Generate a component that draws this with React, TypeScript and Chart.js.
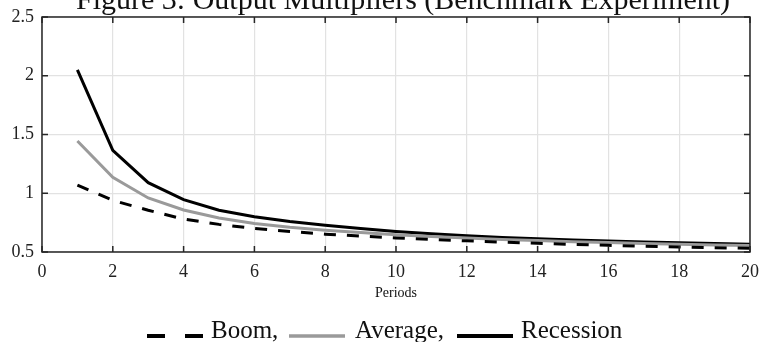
import React, { useEffect, useRef } from "react";
import { Chart, registerables } from "chart.js";

Chart.register(...registerables);

const periods = [1, 2, 3, 4, 5, 6, 7, 8, 9, 10, 11, 12, 13, 14, 15, 16, 17, 18, 19, 20];
const boom = [1.07, 0.94, 0.855, 0.78, 0.735, 0.70, 0.675, 0.652, 0.635, 0.62, 0.607, 0.595, 0.584, 0.574, 0.565, 0.557, 0.55, 0.543, 0.537, 0.531];
const average = [1.445, 1.135, 0.96, 0.858, 0.79, 0.742, 0.71, 0.686, 0.665, 0.647, 0.632, 0.619, 0.607, 0.597, 0.588, 0.58, 0.573, 0.566, 0.56, 0.555];
const recession = [2.05, 1.365, 1.09, 0.945, 0.855, 0.80, 0.76, 0.728, 0.70, 0.675, 0.655, 0.638, 0.624, 0.612, 0.602, 0.594, 0.586, 0.579, 0.572, 0.566];
const xTicks = [0, 2, 4, 6, 8, 10, 12, 14, 16, 18, 20];
const yTicks = [0.5, 1, 1.5, 2, 2.5];
const titleText = "Figure 3: Output Multipliers (Benchmark Experiment)";
const xTitle = "Periods";
const legendLabels = ["Boom,", "Average,", "Recession"];

const SERIF = "'Liberation Serif', 'DejaVu Serif', serif";
const GRAY = "#9a9a9a";

const framePlugin = {
  id: "frame",
  afterDatasetsDraw(chart: any) {
    const { ctx, chartArea: a, scales } = chart;
    const xs = scales.x, ys = scales.y;
    ctx.save();
    ctx.strokeStyle = "#262626";
    ctx.lineWidth = 1.5;
    ctx.strokeRect(a.left, a.top, a.right - a.left, a.bottom - a.top);
    const tl = 6;
    ctx.beginPath();
    xTicks.forEach((v) => {
      const px = xs.getPixelForValue(v);
      ctx.moveTo(px, a.bottom);
      ctx.lineTo(px, a.bottom - tl);
      ctx.moveTo(px, a.top);
      ctx.lineTo(px, a.top + tl);
    });
    yTicks.forEach((v) => {
      const py = ys.getPixelForValue(v);
      ctx.moveTo(a.left, py);
      ctx.lineTo(a.left + tl, py);
      ctx.moveTo(a.right, py);
      ctx.lineTo(a.right - tl, py);
    });
    ctx.stroke();
    ctx.restore();
  },
  afterDraw(chart: any) {
    const { ctx, chartArea: a } = chart;
    ctx.save();
    ctx.fillStyle = "#111";
    // title
    ctx.font = `30px ${SERIF}`;
    ctx.textAlign = "center";
    ctx.textBaseline = "alphabetic";
    ctx.fillText(titleText, 403, 9);
    // x title
    ctx.font = `14px ${SERIF}`;
    ctx.fillText(xTitle, (a.left + a.right) / 2, 297);
    // legend
    ctx.textAlign = "left";
    ctx.font = `25px ${SERIF}`;
    const ly = 336;
    const items = [
      { x0: 147, x1: 203, tx: 211, color: "#000", dash: [18, 20], w: 4 },
      { x0: 289, x1: 345, tx: 355, color: GRAY, dash: [], w: 3.5 },
      { x0: 457, x1: 513, tx: 521, color: "#000", dash: [], w: 4 },
    ];
    items.forEach((it, i) => {
      ctx.beginPath();
      ctx.setLineDash(it.dash);
      ctx.strokeStyle = it.color;
      ctx.lineWidth = it.w;
      ctx.moveTo(it.x0, ly);
      ctx.lineTo(it.x1, ly);
      ctx.stroke();
      ctx.setLineDash([]);
      ctx.fillStyle = "#111";
      ctx.fillText(legendLabels[i], it.tx, 338);
    });
    ctx.restore();
  },
};

export default function App() {
  const ref = useRef<HTMLCanvasElement | null>(null);
  useEffect(() => {
    document.body.style.margin = "0";
    const canvas = ref.current!;
    const chart = new Chart(canvas, {
      type: "line",
      data: {
        datasets: [
          {
            label: "Boom",
            data: periods.map((p, i) => ({ x: p, y: boom[i] })),
            borderColor: "#000",
            borderWidth: 3,
            borderDash: [12, 11],
            pointRadius: 0,
            fill: false,
            tension: 0,
          },
          {
            label: "Average",
            data: periods.map((p, i) => ({ x: p, y: average[i] })),
            borderColor: GRAY,
            borderWidth: 3,
            pointRadius: 0,
            fill: false,
            tension: 0,
          },
          {
            label: "Recession",
            data: periods.map((p, i) => ({ x: p, y: recession[i] })),
            borderColor: "#000",
            borderWidth: 3,
            pointRadius: 0,
            fill: false,
            tension: 0,
          },
        ],
      },
      options: {
        animation: false,
        responsive: false,
        events: [],
        layout: { padding: { top: 17, right: 10, left: 0, bottom: 0 } },
        plugins: {
          legend: { display: false },
          title: { display: false },
          tooltip: { enabled: false },
        },
        scales: {
          x: {
            type: "linear",
            min: 0,
            max: 20,
            afterFit: (s: any) => {
              s.height = 90;
              s.paddingLeft = 0;
              s.paddingRight = 0;
            },
            afterBuildTicks: (s: any) => {
              s.ticks = xTicks.map((v) => ({ value: v }));
            },
            grid: { color: "#e2e2e2", lineWidth: 1.2, drawTicks: false },
            border: { display: false },
            ticks: {
              padding: 9,
              color: "#222",
              font: { family: SERIF, size: 18 },
              maxRotation: 0,
            },
          },
          y: {
            type: "linear",
            min: 0.5,
            max: 2.5,
            afterFit: (s: any) => {
              s.width = 42;
              s.paddingTop = 0;
              s.paddingBottom = 0;
            },
            afterBuildTicks: (s: any) => {
              s.ticks = yTicks.map((v) => ({ value: v }));
            },
            grid: { color: "#e2e2e2", lineWidth: 1.2, drawTicks: false },
            border: { display: false },
            ticks: {
              padding: 8,
              color: "#222",
              font: { family: SERIF, size: 18 },
              callback: (v: any) => String(v),
            },
          },
        },
      },
      plugins: [framePlugin],
    });
    return () => chart.destroy();
  }, []);
  return (
    <div style={{ position: "absolute", left: 0, top: 0, width: 760, height: 342, background: "#fff" }}>
      <canvas ref={ref} width={760} height={342} />
    </div>
  );
}
